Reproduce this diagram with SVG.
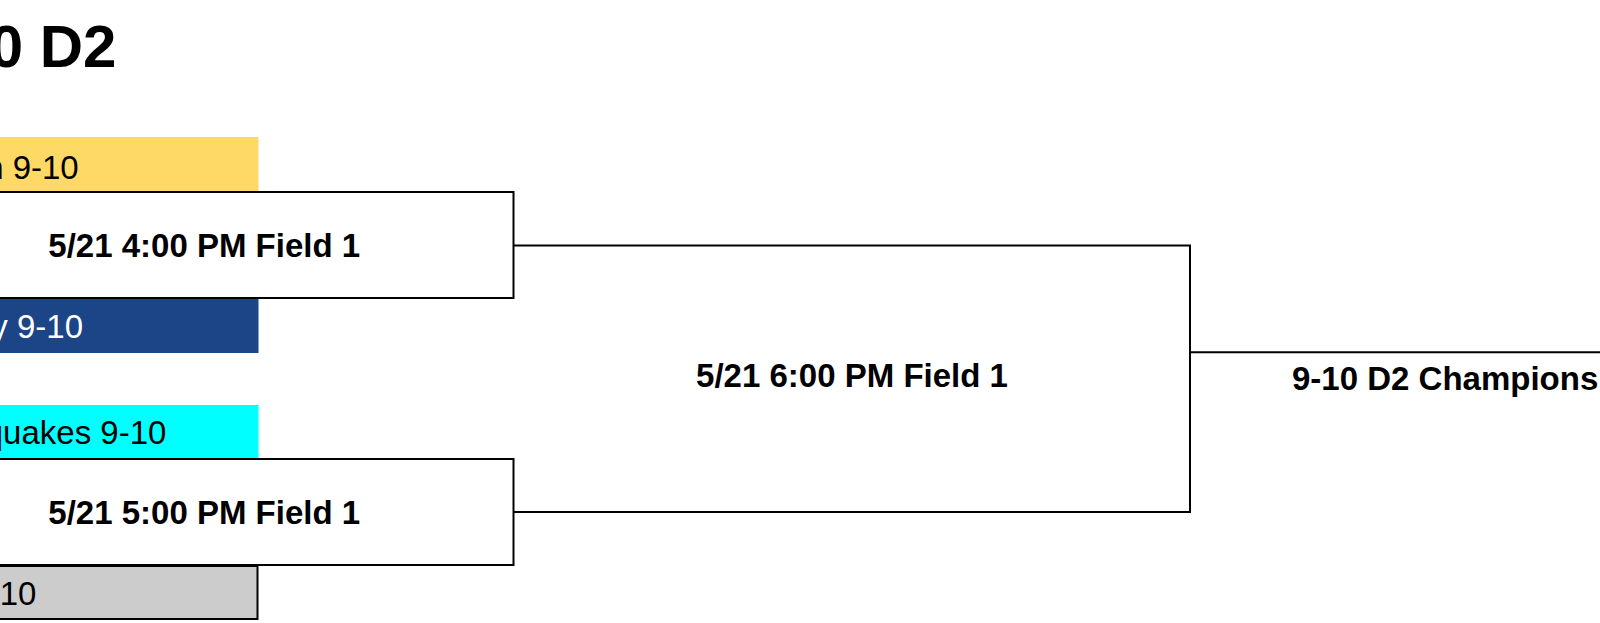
<svg xmlns="http://www.w3.org/2000/svg" width="1600" height="623" viewBox="0 0 1600 623">
<style>
.title{font-family:"Liberation Sans",Arial,sans-serif;font-weight:bold;font-size:60px;fill:#000}
.team{font-family:"Liberation Sans",Arial,sans-serif;font-size:33px;fill:#000}
.match{font-family:"Liberation Sans",Arial,sans-serif;font-weight:bold;font-size:33px;fill:#000}
.mbox{fill:#fff;stroke:#000;stroke-width:2}
.conn{fill:none;stroke:#000;stroke-width:2}
</style>
<rect width="1600" height="623" fill="#fff"/>
<g id="title"><text class="title" x="116.5" y="67" text-anchor="end">0 D2</text></g>
<g id="team1"><rect x="-10" y="137" width="268.5" height="54" fill="#FFD966"/><text class="team" x="78.7" y="178.5" text-anchor="end">n 9-10</text></g>
<g id="team2"><rect x="-10" y="299" width="268.5" height="54" fill="#1C4587"/><text class="team" x="83" y="338" text-anchor="end" style="fill:#fff">y 9-10</text></g>
<g id="team3"><rect x="-10" y="405" width="268.5" height="53.5" fill="#00FFFF"/><text class="team" x="166.4" y="444.3" text-anchor="end">quakes 9-10</text></g>
<g id="team4"><rect x="-10" y="566" width="267.5" height="53" fill="#CCCCCC" stroke="#000" stroke-width="2"/><text class="team" x="36.4" y="604.5" text-anchor="end">10</text></g>
<g id="connectors">
<path class="conn" d="M513.5 245.5 H1190 V512 H513.5"/>
<path class="conn" d="M1190 352.3 H1600"/>
</g>
<g id="match1"><rect class="mbox" x="-10" y="192" width="523.5" height="106"/><text class="match" x="48.3" y="257">5/21 4:00 PM Field 1</text></g>
<g id="match2"><rect class="mbox" x="-10" y="459" width="523.5" height="106"/><text class="match" x="48.3" y="524">5/21 5:00 PM Field 1</text></g>
<g id="match3"><text class="match" x="852" y="387" text-anchor="middle">5/21 6:00 PM Field 1</text></g>
<g id="champion"><text class="match" x="1292" y="390">9-10 D2 Champions</text></g>
</svg>
